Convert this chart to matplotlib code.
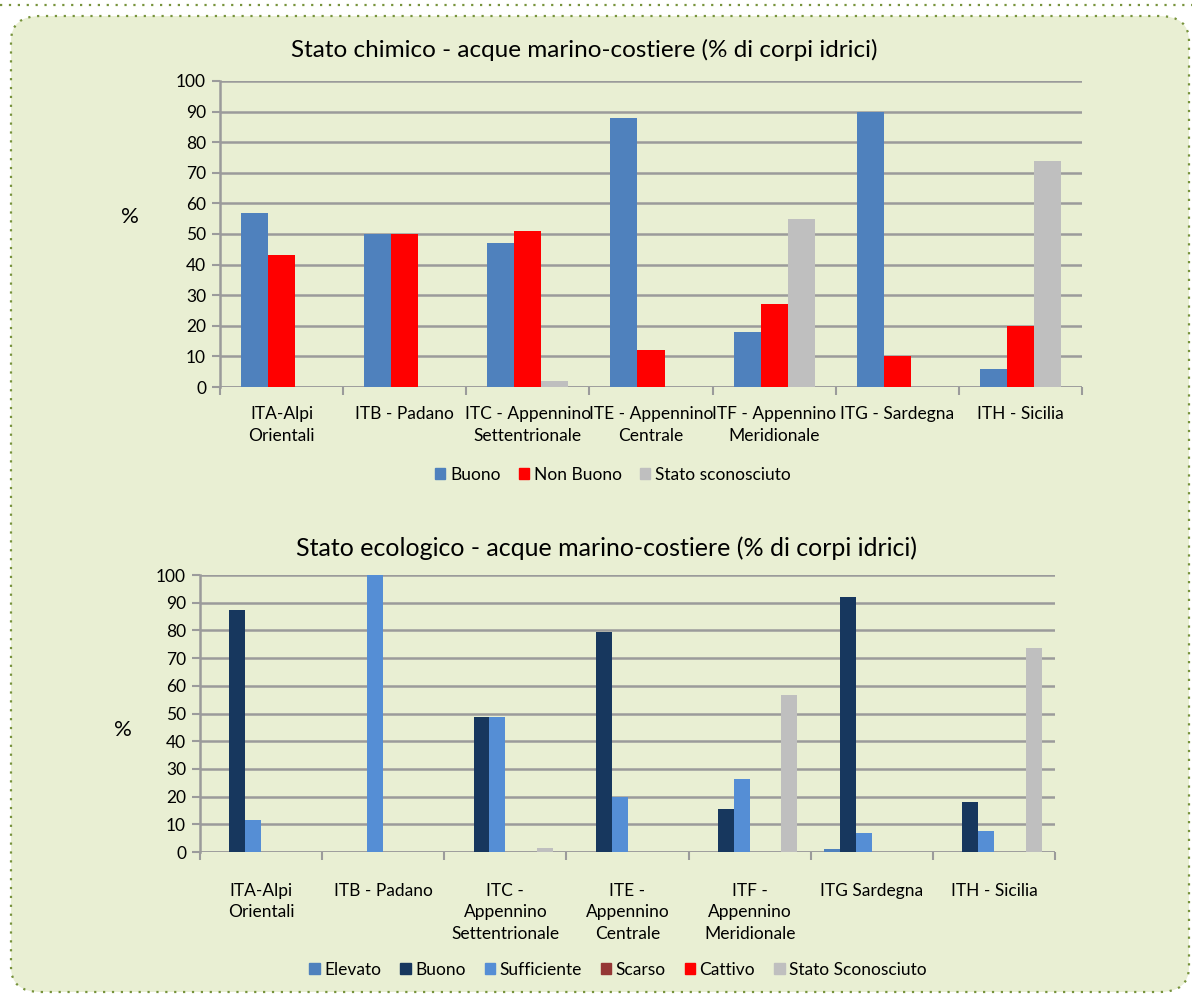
import numpy as np
import matplotlib
matplotlib.use("Agg")
import matplotlib.pyplot as plt
from matplotlib.patches import FancyBboxPatch, Patch
from matplotlib.lines import Line2D

plt.rcParams['font.family'] = ['Lato', 'DejaVu Sans']

# --- stato chimico ---
chem_regions = ["ITA-Alpi\nOrientali", "ITB - Padano", "ITC - Appennino\nSettentrionale",
                "ITE - Appennino\nCentrale", "ITF - Appennino\nMeridionale",
                "ITG - Sardegna", "ITH - Sicilia"]
chem_buono = [57, 50, 47, 88, 18, 90, 6]
chem_non_buono = [43, 50, 51, 12, 27, 10, 20]
chem_sconosciuto = [0, 0, 2, 0, 55, 0, 74]

# --- stato ecologico ---
eco_regions = ["ITA-Alpi\nOrientali", "ITB - Padano", "ITC -\nAppennino\nSettentrionale",
               "ITE -\nAppennino\nCentrale", "ITF -\nAppennino\nMeridionale",
               "ITG Sardegna", "ITH - Sicilia"]
eco_elevato = [0, 0, 0, 0, 0, 1, 0]
eco_buono = [87.5, 0, 48.7, 79.5, 15.5, 92, 18]
eco_sufficiente = [11.5, 100, 48.7, 20, 26.5, 7, 7.5]
eco_scarso = [0, 0, 0, 0, 0, 0, 0]
eco_cattivo = [0, 0, 0, 0, 0, 0, 0]
eco_sconosciuto = [0, 0, 1.5, 0, 56.7, 0, 73.7]

W, H = 1192, 996
BG = '#e9efd3'
GRID = '#9b9b9b'


def px_axes(fig, left, top, right, bottom):
    return fig.add_axes([left / W, 1 - bottom / H, (right - left) / W, (bottom - top) / H])


def style_axes(ax, labels, label_pad):
    ax.set_facecolor('none')
    ax.set_xlim(0, len(labels))
    ax.set_ylim(0, 100)
    ax.set_yticks(np.arange(0, 101, 10))
    ax.yaxis.grid(True, color=GRID, linewidth=1.8)
    ax.set_axisbelow(True)
    for s in ['top', 'right', 'bottom']:
        ax.spines[s].set_visible(False)
    ax.spines['left'].set_color(GRID)
    ax.spines['left'].set_linewidth(1.8)
    ax.axhline(0, color=GRID, linewidth=1.8, zorder=1)
    ax.tick_params(axis='y', length=6, color=GRID, width=1.5, labelsize=12.5, pad=4)
    ax.set_xticks(np.arange(len(labels)) + 0.5)
    ax.set_xticklabels(labels, fontsize=12.5, linespacing=1.45, va='top')
    ax.set_xticks(np.arange(len(labels) + 1), minor=True)
    ax.tick_params(axis='x', which='major', length=0, pad=label_pad)
    ax.tick_params(axis='x', which='minor', length=6, color=GRID, width=1.5)


fig = plt.figure(figsize=(W / 100, H / 100), dpi=100)
fig.patch.set_facecolor('white')

# rounded panel with dotted border
panel = FancyBboxPatch((11 / W, 1 - 992 / H), 1178 / W, 976 / H,
                       boxstyle="round,pad=0,rounding_size=0.025",
                       transform=fig.transFigure, facecolor=BG, edgecolor='#77933c',
                       linestyle=(0, (1, 3)), linewidth=1.6, zorder=-10)
fig.patches.append(panel)
fig.add_artist(Line2D([0, 1], [1 - 5 / H, 1 - 5 / H], transform=fig.transFigure,
                      color='#77933c', linestyle=(0, (1, 3)), linewidth=1.6))

# top chart
ax1 = px_axes(fig, 220, 81, 1082, 387)
x = np.arange(len(chem_regions)) + 0.5
bw = 0.22
ax1.bar(x - bw, chem_buono, bw, color='#4f81bd', zorder=3)
ax1.bar(x, chem_non_buono, bw, color='#ff0000', zorder=3)
ax1.bar(x + bw, chem_sconosciuto, bw, color='#bfbfbf', zorder=3)
style_axes(ax1, chem_regions, 14)
fig.text(584 / W, 1 - 50 / H, "Stato chimico - acque marino-costiere (% di corpi idrici)",
         ha='center', va='center', fontsize=17.5)
fig.text(130 / W, 1 - 217 / H, "%", ha='center', va='center', fontsize=16)

chem_handles = [Patch(color='#4f81bd', label='Buono'),
                Patch(color='#ff0000', label='Non Buono'),
                Patch(color='#bfbfbf', label='Stato sconosciuto')]
fig.legend(handles=chem_handles, loc='center', bbox_to_anchor=(613 / W, 1 - 475 / H),
           ncol=3, frameon=False, fontsize=12.5, handlelength=0.6, handleheight=0.6,
           handletextpad=0.3, columnspacing=1.0)

# bottom chart
ax2 = px_axes(fig, 200, 575, 1055, 852)
x = np.arange(len(eco_regions)) + 0.5
bw = 0.13
eco_series = [(eco_elevato, '#4f81bd', 'Elevato'),
              (eco_buono, '#17375e', 'Buono'),
              (eco_sufficiente, '#558ed5', 'Sufficiente'),
              (eco_scarso, '#953735', 'Scarso'),
              (eco_cattivo, '#ff0000', 'Cattivo'),
              (eco_sconosciuto, '#bfbfbf', 'Stato Sconosciuto')]
for k, (vals, col, lab) in enumerate(eco_series):
    ax2.bar(x + (k - 2.5) * bw, vals, bw, color=col, zorder=3)
style_axes(ax2, eco_regions, 22)
fig.text(607 / W, 1 - 548 / H, "Stato ecologico - acque marino-costiere (% di corpi idrici)",
         ha='center', va='center', fontsize=18)
fig.text(123 / W, 1 - 730 / H, "%", ha='center', va='center', fontsize=16)

eco_handles = [Patch(color=c, label=l) for _, c, l in eco_series]
fig.legend(handles=eco_handles, loc='center', bbox_to_anchor=(618 / W, 1 - 970 / H),
           ncol=6, frameon=False, fontsize=12.5, handlelength=0.6, handleheight=0.6,
           handletextpad=0.25, columnspacing=1.1)

fig.savefig("out.png", dpi=100, facecolor=fig.get_facecolor())
